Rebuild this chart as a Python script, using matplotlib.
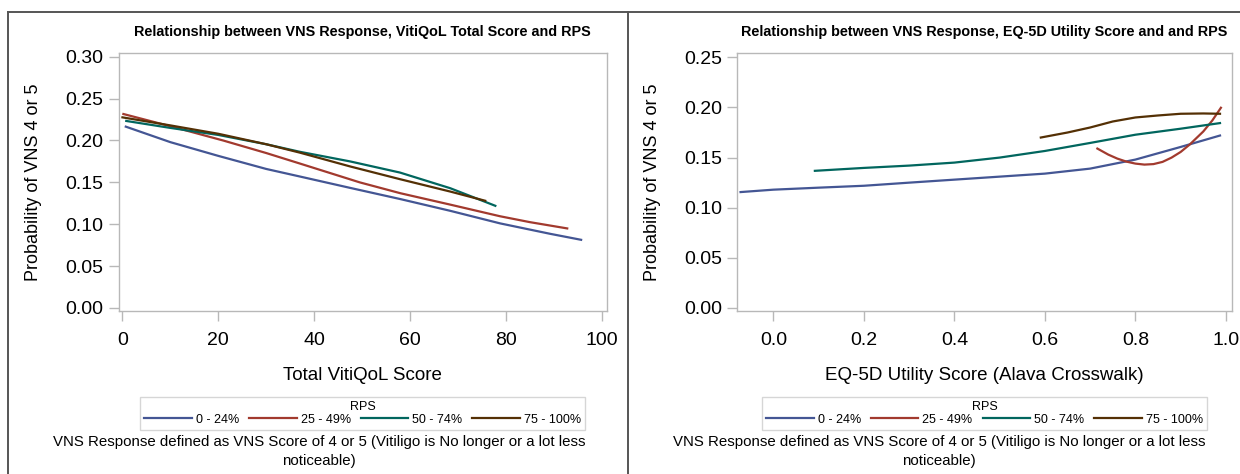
import matplotlib
matplotlib.use("Agg")
import matplotlib.pyplot as plt
from matplotlib.lines import Line2D

plt.rcParams['font.family'] = ['Liberation Sans', 'DejaVu Sans']

groups = ["0 - 24%", "25 - 49%", "50 - 74%", "75 - 100%"]
colors = ["#445694", "#A23A2E", "#01665E", "#543005"]

# Left panel: Total VitiQoL Score
vq_x = [
    [0.7, 10, 20, 30, 37, 47.5, 58, 68.4, 78.8, 89.2, 95.7],
    [0.2, 10, 21, 30, 37, 49.5, 58, 68.4, 78.8, 85, 92.8],
    [0.8, 10, 20, 30, 37, 47.5, 57.9, 68.4, 77.8],
    [0.0, 10, 20, 30, 37, 47.5, 57.9, 68.4, 75.7],
]
vq_y = [
    [0.2165, 0.198, 0.1816, 0.166, 0.157, 0.1434, 0.130, 0.116, 0.101, 0.0886, 0.0814],
    [0.2316, 0.217, 0.200, 0.185, 0.1725, 0.150, 0.137, 0.1234, 0.1095, 0.1025, 0.095],
    [0.2233, 0.215, 0.2066, 0.1955, 0.1865, 0.175, 0.1617, 0.143, 0.122],
    [0.2276, 0.218, 0.2080, 0.1955, 0.1855, 0.169, 0.1538, 0.139, 0.128],
]

# Right panel: EQ-5D Utility Score
eq_x = [
    [-0.0725, 0.0, 0.1, 0.2, 0.3, 0.4, 0.5, 0.6, 0.7, 0.8, 0.9, 0.987],
    [0.716, 0.74, 0.76, 0.78, 0.80, 0.82, 0.84, 0.86, 0.88, 0.90, 0.92, 0.95, 0.97, 0.989],
    [0.0917, 0.2, 0.3, 0.4, 0.5, 0.6, 0.7, 0.8, 0.9, 0.987],
    [0.591, 0.65, 0.7, 0.75, 0.8, 0.85, 0.9, 0.95, 0.987],
]
eq_y = [
    [0.1156, 0.118, 0.120, 0.1219, 0.125, 0.128, 0.131, 0.134, 0.139, 0.148, 0.1606, 0.172],
    [0.159, 0.153, 0.149, 0.146, 0.144, 0.143, 0.1435, 0.1457, 0.150, 0.1556, 0.163, 0.176, 0.187, 0.1997],
    [0.1368, 0.1397, 0.142, 0.145, 0.150, 0.1566, 0.1646, 0.1728, 0.1788, 0.1844],
    [0.170, 0.175, 0.180, 0.186, 0.190, 0.192, 0.1937, 0.194, 0.1937],
]

W, H = 1240, 474
fig = plt.figure(figsize=(W / 100, H / 100), dpi=100)

def px_axes(x0, x1, y0, y1):
    return fig.add_axes([x0 / W, 1 - y1 / H, (x1 - x0) / W, (y1 - y0) / H])

ax1 = px_axes(118.6, 607, 52.7, 311)
ax2 = px_axes(737.4, 1231.5, 52.7, 311)

frame_col = "#b8b8b8"
foot = "VNS Response defined as VNS Score of 4 or 5 (Vitiligo is No longer or a lot less\nnoticeable)"

def style(ax, title, xlabel, foot_x):
    for s in ax.spines.values():
        s.set_color(frame_col)
        s.set_linewidth(1.0)
    ax.tick_params(direction='out', length=7.2, width=1.0, color=frame_col,
                   labelsize=14, labelcolor='black')
    ax.tick_params(axis='x', pad=8)
    ax.tick_params(axis='y', pad=3.5)
    ax.set_title(title, fontsize=10.4, fontweight='bold', pad=12)
    ax.set_xlabel(xlabel, fontsize=13.5, labelpad=13)
    ax.set_ylabel("Probability of VNS 4 or 5", fontsize=13, labelpad=17)
    leg = ax.legend(loc='upper center', bbox_to_anchor=(0.5, -0.332), ncol=4,
                    title="RPS", fontsize=9, title_fontsize=9, handlelength=3.8,
                    handletextpad=0.32, columnspacing=0.8, borderpad=0.35,
                    borderaxespad=0, frameon=True, fancybox=False,
                    edgecolor="#cccccc", labelspacing=0.05)
    leg.get_frame().set_linewidth(1.0)
    fig.text(foot_x / W, 1 - 435 / H, foot, ha='center', va='top',
             fontsize=10.8, linespacing=1.5)

for xs, ys, c, g in zip(vq_x, vq_y, colors, groups):
    ax1.plot(xs, ys, color=c, lw=1.6, label=g)
ax1.set_xlim(-0.8, 101.1)
ax1.set_ylim(-0.0036, 0.3048)
ax1.set_xticks([0, 20, 40, 60, 80, 100])
ax1.set_yticks([0.0, 0.05, 0.10, 0.15, 0.20, 0.25, 0.30])
ax1.set_yticklabels(["0.00", "0.05", "0.10", "0.15", "0.20", "0.25", "0.30"])
style(ax1, "Relationship between VNS Response, VitiQoL Total Score and RPS",
      "Total VitiQoL Score", 319)

for xs, ys, c, g in zip(eq_x, eq_y, colors, groups):
    ax2.plot(xs, ys, color=c, lw=1.6, label=g)
ax2.set_xlim(-0.0795, 1.0124)
ax2.set_ylim(-0.003, 0.2546)
ax2.set_xticks([0.0, 0.2, 0.4, 0.6, 0.8, 1.0])
ax2.set_xticklabels(["0.0", "0.2", "0.4", "0.6", "0.8", "1.0"])
ax2.set_yticks([0.0, 0.05, 0.10, 0.15, 0.20, 0.25])
ax2.set_yticklabels(["0.00", "0.05", "0.10", "0.15", "0.20", "0.25"])
style(ax2, "Relationship between VNS Response, EQ-5D Utility Score and and RPS",
      "EQ-5D Utility Score (Alava Crosswalk)", 939)

# panel borders
border = "#555555"
fig.add_artist(Line2D([8 / W, 1], [1 - 12 / H, 1 - 12 / H], color=border, lw=1.4))
fig.add_artist(Line2D([8 / W, 8 / W], [0, 1 - 12 / H], color=border, lw=1.4))
fig.add_artist(Line2D([628 / W, 628 / W], [0, 1 - 12 / H], color=border, lw=1.4))

fig.savefig("out.png", dpi=100)
